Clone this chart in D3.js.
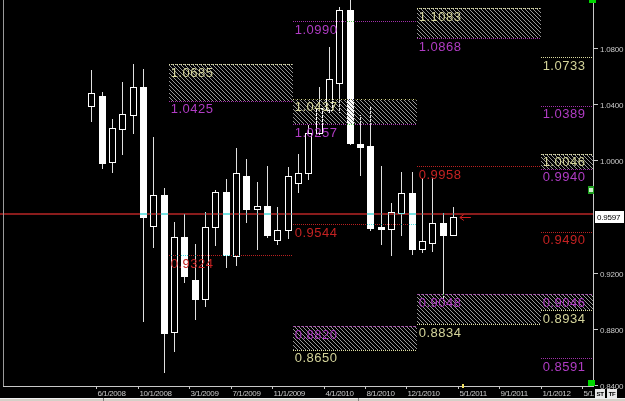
<!DOCTYPE html>
<html><head><meta charset="utf-8">
<script src="https://cdn.jsdelivr.net/npm/d3@7"></script>
<style>html,body{margin:0;padding:0;background:#000;overflow:hidden}</style>
</head><body>
<svg id="c" width="625" height="401"></svg>
<script>
// ---------- data ----------
const months = ["2008-05","2008-06","2008-07","2008-08","2008-09","2008-10","2008-11","2008-12",
  "2009-01","2009-02","2009-03","2009-04","2009-05","2009-06","2009-07","2009-08","2009-09","2009-10","2009-11","2009-12",
  "2010-01","2010-02","2010-03","2010-04","2010-05","2010-06","2010-07","2010-08","2010-09","2010-10","2010-11","2010-12",
  "2011-01","2011-02","2011-03","2011-04"];
const opens  = [1.0389,1.0460,0.9986,1.0221,1.0321,1.0524,0.9534,0.9751,0.8780,0.9452,0.9148,0.9014,0.9524,0.9774,0.9321,0.9889,0.9656,0.9673,0.9433,0.9504,
  0.9837,0.9908,1.0195,1.0358,1.0553,1.1071,1.0117,1.0102,0.9527,0.9508,0.9627,0.9770,0.9371,0.9413,0.9551,0.9467];
const highs  = [1.0643,1.0484,1.0292,1.0558,1.0686,1.0653,1.0164,0.9801,0.9563,0.9618,0.9402,0.9634,0.9787,0.9867,1.0086,1.0006,0.9846,0.9960,0.9670,0.9955,
  1.0045,1.0252,1.0524,1.0809,1.1090,1.1140,1.0323,1.0382,0.9960,0.9698,0.9917,0.9917,0.9874,0.9874,0.9624,0.9670];
const lows   = [1.0275,0.9941,0.9908,1.0038,1.0190,0.8851,0.9373,0.8483,0.8637,0.9128,0.8863,0.8957,0.9389,0.9236,0.9250,0.9556,0.9361,0.9445,0.9395,0.9437,
  0.9766,0.9860,1.0180,1.0330,1.0335,1.0108,0.9889,0.9494,0.9395,0.9318,0.9461,0.9323,0.9343,0.9349,0.8999,0.9460];
const closes = [1.0477,0.9979,1.0228,1.0330,1.0524,0.9598,0.9751,0.8768,0.9452,0.9176,0.9012,0.9527,0.9778,0.9326,0.9908,0.9653,0.9673,0.9469,0.9504,0.9889,
  0.9908,1.0192,1.0375,1.0579,1.1071,1.0126,1.0098,0.9518,0.9508,0.9632,0.9770,0.9371,0.9423,0.9551,0.9467,0.9597];

const xTickMonths = ["2008-06","2008-10","2009-03","2009-07","2009-11","2010-04","2010-08","2010-12","2011-05","2011-09","2012-01","2012-05"];
const xTickLabels = ["6/1/2008","10/1/2008","3/1/2009","7/1/2009","11/1/2009","4/1/2010","8/1/2010","12/1/2010","5/1/2011","9/1/2011","1/1/2012","5/1/2012"];
const yTickValues = [1.08,1.04,1.00,0.92,0.88,0.84];

const currentPrice = 0.9597;
const markerLevel = 0.9620;

const zoneYears = [2009,2010,2010,2011,2011,2012,2012];
const zoneHighs = [1.0685,1.0437,0.8820,1.1083,0.9048,1.0046,0.9046];
const zoneLows  = [1.0425,1.0257,0.8650,1.0868,0.8834,0.9940,0.8934];
const zoneSides = ["upper","upper","lower","upper","lower","upper","lower"];

const levelYears  = [2009,2010,2010,2011,2012,2012,2012,2012];
const levelValues = [0.9324,1.0990,0.9544,0.9958,1.0733,1.0389,0.9490,0.8591];
const levelKinds  = ["pivot","inner","pivot","pivot","outer","inner","pivot","inner"];

// ---------- scales ----------
const W = 625, H = 401, plotRight = 593, plotBottom = 386;
const monthIdx = s => { const [yy, mm] = s.split("-").map(Number); return (yy - 2008) * 12 + (mm - 5); };
const x = d3.scaleLinear().domain([0, 35]).range([91.3, 452.85]);
const y = d3.scaleLinear().domain([0.84, 1.08]).range([385, 48]);
const colStart = yr => x(monthIdx(yr + "-01") - 0.5);
const colEnd = yr => Math.min(x(monthIdx((yr + 1) + "-01") - 0.5), plotRight);

const kindColor = {pivot: "#b82020", inner: "#a030a8", outer: "#dcdca0"};
const kindText  = {pivot: "#c42222", inner: "#b03cc4", outer: "#d4d49a"};
const FONT = "Liberation Sans, Arial, sans-serif";

const svg = d3.select("#c").attr("shape-rendering", "crispEdges");
svg.append("rect").attr("width", W).attr("height", H).attr("fill", "#000");

const defs = svg.append("defs");
const pat = defs.append("pattern").attr("id", "hatch").attr("patternUnits", "userSpaceOnUse")
  .attr("width", 4).attr("height", 4);
pat.append("path").attr("d", "M-1,-1 L5,5 M-1,3 L1,5 M3,-1 L5,1")
  .attr("stroke", "#a8a8a8").attr("stroke-width", 0.9).attr("shape-rendering", "auto");
defs.append("clipPath").attr("id", "xclip").append("rect")
  .attr("x", 0).attr("y", plotBottom).attr("width", plotRight + 1).attr("height", 15);

// ---------- candles ----------
const candles = svg.append("g");
months.forEach((m, i) => {
  const cx = Math.round(x(monthIdx(m))) + 0.5;
  candles.append("line").attr("x1", cx).attr("x2", cx)
    .attr("y1", y(highs[i])).attr("y2", y(lows[i]))
    .attr("stroke", "#e0e0e0").attr("stroke-width", 1);
  const top = Math.round(y(Math.max(opens[i], closes[i]))) + 0.5;
  const bot = Math.max(top + 2, Math.round(y(Math.min(opens[i], closes[i]))) + 0.5);
  const bear = closes[i] < opens[i];
  candles.append("rect").attr("x", cx - 3).attr("y", top).attr("width", 6).attr("height", bot - top)
    .attr("fill", bear ? "#ffffff" : "#000000").attr("stroke", "#ffffff").attr("stroke-width", 1);
});

// ---------- level overlays (xor-like) ----------
const ov = svg.append("g");
function dotted(x1, x2, v, color) {
  const yy = Math.round(y(v)) + 0.5;
  ov.append("line").attr("x1", x1).attr("x2", x2).attr("y1", yy).attr("y2", yy)
    .attr("stroke", color).attr("stroke-width", 1).attr("stroke-dasharray", "1,1")
    .style("mix-blend-mode", "difference");
}
const labels = [];
zoneYears.forEach((yr, i) => {
  const x1 = colStart(yr), x2 = colEnd(yr);
  ov.append("rect").attr("x", x1).attr("y", y(zoneHighs[i])).attr("width", x2 - x1)
    .attr("height", y(zoneLows[i]) - y(zoneHighs[i])).attr("fill", "url(#hatch)")
    .style("mix-blend-mode", "difference");
  const topKind = zoneSides[i] === "upper" ? "outer" : "inner";
  const botKind = zoneSides[i] === "upper" ? "inner" : "outer";
  dotted(x1, x2, zoneHighs[i], kindColor[topKind]);
  dotted(x1, x2, zoneLows[i], kindColor[botKind]);
  labels.push({x: x1, v: zoneHighs[i], kind: topKind});
  labels.push({x: x1, v: zoneLows[i], kind: botKind});
});
levelYears.forEach((yr, i) => {
  dotted(colStart(yr), colEnd(yr), levelValues[i], kindColor[levelKinds[i]]);
  labels.push({x: colStart(yr), v: levelValues[i], kind: levelKinds[i]});
});
ov.append("rect").attr("x", 0).attr("y", Math.round(y(markerLevel)) - 1).attr("width", plotRight)
  .attr("height", 2).attr("fill", "#8a1c1c").style("mix-blend-mode", "difference");

svg.append("g").selectAll("text").data(labels).join("text")
  .attr("x", d => d.x + 2).attr("y", d => y(d.v) + 12.5)
  .attr("fill", d => kindText[d.kind])
  .attr("font-family", FONT).attr("font-size", 13).attr("letter-spacing", 0.5)
  .text(d => d.v.toFixed(4));

// arrow at last close
const lastX = x(monthIdx(months[months.length - 1]));
const ay = Math.round(y(currentPrice)) + 0.5;
svg.append("path").attr("d", `M${lastX + 7},${ay} L${lastX + 18},${ay} M${lastX + 11},${ay - 3} L${lastX + 7},${ay} L${lastX + 11},${ay + 3}`)
  .attr("stroke", "#d02020").attr("fill", "none").attr("stroke-width", 1).attr("shape-rendering", "auto");

// ---------- axes ----------
const axisColor = "#c8c8c8";
svg.append("line").attr("x1", plotRight + 0.5).attr("x2", plotRight + 0.5).attr("y1", 0).attr("y2", plotBottom).attr("stroke", axisColor);
svg.append("line").attr("x1", 3.5).attr("x2", 3.5).attr("y1", 0).attr("y2", plotBottom).attr("stroke", "#9a9a9a");
svg.append("line").attr("x1", 3).attr("x2", plotRight + 1).attr("y1", plotBottom + 0.5).attr("y2", plotBottom + 0.5).attr("stroke", axisColor);

const yAx = svg.append("g");
yTickValues.forEach(v => {
  const yy = Math.round(y(v)) + 0.5;
  yAx.append("line").attr("x1", plotRight).attr("x2", plotRight + 5).attr("y1", yy).attr("y2", yy).attr("stroke", axisColor);
  yAx.append("text").attr("x", plotRight + 7).attr("y", yy + 3).attr("fill", axisColor)
    .attr("font-family", FONT).attr("font-size", 8).attr("letter-spacing", -0.2).text(v.toFixed(4));
});
svg.append("rect").attr("x", plotRight + 2).attr("y", Math.round(y(currentPrice)) - 6).attr("width", 29).attr("height", 12).attr("fill", "#ffffff");
svg.append("text").attr("x", plotRight + 4).attr("y", Math.round(y(currentPrice)) + 3).attr("fill", "#000")
  .attr("font-family", FONT).attr("font-size", 8).attr("letter-spacing", -0.2).text(currentPrice.toFixed(4));

const xAx = svg.append("g").attr("clip-path", "url(#xclip)");
xTickMonths.forEach((m, i) => {
  const xx = Math.round(x(monthIdx(m) - 0.5)) + 0.5;
  xAx.append("line").attr("x1", xx).attr("x2", xx).attr("y1", plotBottom).attr("y2", plotBottom + 3).attr("stroke", axisColor);
  xAx.append("text").attr("x", xx + 1).attr("y", plotBottom + 10).attr("fill", axisColor)
    .attr("font-family", FONT).attr("font-size", 8).attr("letter-spacing", -0.4).text(xTickLabels[i]);
});

// ---------- misc chrome ----------
svg.append("rect").attr("x", Math.round(x(months.length)) - 1).attr("y", plotBottom - 2).attr("width", 2).attr("height", 4).attr("fill", "#f0e060");
svg.append("rect").attr("x", plotRight - 4).attr("y", 0).attr("width", 7).attr("height", 3).attr("fill", "#00d800");
svg.append("rect").attr("x", plotRight - 5).attr("y", plotBottom - 6).attr("width", 7).attr("height", 6).attr("fill", "#00d800");
svg.append("rect").attr("x", plotRight - 5).attr("y", 186).attr("width", 6).attr("height", 8).attr("fill", "#20a020");
svg.append("rect").attr("x", plotRight - 4).attr("y", 188).attr("width", 4).attr("height", 4).attr("fill", "#d0f0d0");
const chip = (cx, t) => {
  svg.append("rect").attr("x", cx).attr("y", 389).attr("width", 10).attr("height", 9).attr("fill", "#e8e8e8");
  svg.append("text").attr("x", cx + 5).attr("y", 396).attr("text-anchor", "middle").attr("fill", "#000").attr("font-family", FONT)
    .attr("font-size", 6).attr("font-weight", "bold").attr("letter-spacing", -0.3).text(t);
};
chip(plotRight + 2, "ST");
chip(plotRight + 14, "TF");
svg.append("rect").attr("x", 0).attr("y", 398).attr("width", W).attr("height", 3).attr("fill", "#d4d0c8");
svg.append("line").attr("x1", 0).attr("x2", W).attr("y1", 398.5).attr("y2", 398.5).attr("stroke", "#f0f0f0");
[103, 358].forEach(sx => svg.append("line").attr("x1", sx + 0.5).attr("x2", sx + 0.5).attr("y1", 398).attr("y2", 401).attr("stroke", "#808080"));
</script>
</body></html>
